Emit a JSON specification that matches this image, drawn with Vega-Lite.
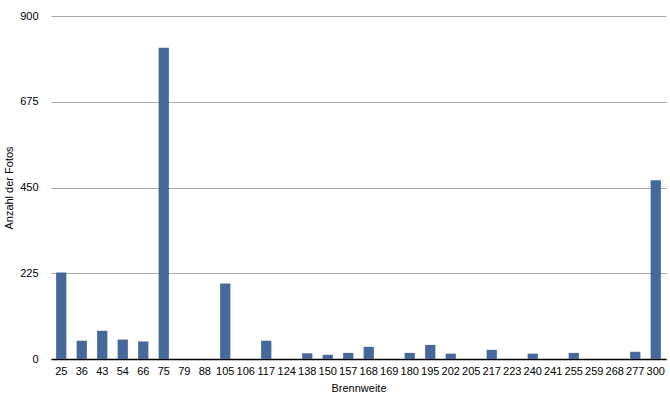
{
  "$schema": "https://vega.github.io/schema/vega-lite/v6.json",
  "autosize": "none",
  "padding": {"left": 51, "top": 16, "right": 4, "bottom": 39},
  "width": 615,
  "height": 343,
  "background": "white",
  "config": {
    "view": {"stroke": null},
    "font": "Liberation Sans",
    "axis": {"labelFont": "Liberation Sans", "titleFont": "Liberation Sans", "labelColor": "#000000", "titleColor": "#000000", "labelFontSize": 11, "titleFontSize": 11, "titleFontWeight": "normal"}
  },
  "data": {
    "values": [
      {"Brennweite": "25", "Anzahl": 227},
      {"Brennweite": "36", "Anzahl": 48},
      {"Brennweite": "43", "Anzahl": 74},
      {"Brennweite": "54", "Anzahl": 51},
      {"Brennweite": "66", "Anzahl": 46},
      {"Brennweite": "75", "Anzahl": 817},
      {"Brennweite": "79", "Anzahl": 0},
      {"Brennweite": "88", "Anzahl": 0},
      {"Brennweite": "105", "Anzahl": 198},
      {"Brennweite": "106", "Anzahl": 0},
      {"Brennweite": "117", "Anzahl": 48},
      {"Brennweite": "124", "Anzahl": 0},
      {"Brennweite": "138", "Anzahl": 15},
      {"Brennweite": "150", "Anzahl": 11},
      {"Brennweite": "157", "Anzahl": 16},
      {"Brennweite": "168", "Anzahl": 32},
      {"Brennweite": "169", "Anzahl": 0},
      {"Brennweite": "180", "Anzahl": 16},
      {"Brennweite": "195", "Anzahl": 37},
      {"Brennweite": "202", "Anzahl": 14},
      {"Brennweite": "205", "Anzahl": 0},
      {"Brennweite": "217", "Anzahl": 24},
      {"Brennweite": "223", "Anzahl": 0},
      {"Brennweite": "240", "Anzahl": 14},
      {"Brennweite": "241", "Anzahl": 0},
      {"Brennweite": "255", "Anzahl": 16},
      {"Brennweite": "259", "Anzahl": 0},
      {"Brennweite": "268", "Anzahl": 0},
      {"Brennweite": "277", "Anzahl": 19},
      {"Brennweite": "300", "Anzahl": 469}
    ]
  },
  "mark": {"type": "bar", "color": "#46699b"},
  "encoding": {
    "x": {
      "field": "Brennweite",
      "type": "ordinal",
      "sort": null,
      "title": "Brennweite",
      "scale": {"paddingInner": 0.5, "paddingOuter": 0.25},
      "axis": {"labelAngle": 0, "ticks": false, "labelPadding": 6, "domainColor": "#000000", "domainWidth": 1.5, "titleBaseline": "top", "titleY": 23, "titleX": 307.5, "titleAnchor": "middle", "titleAlign": "center"}
    },
    "y": {
      "field": "Anzahl",
      "type": "quantitative",
      "title": "Anzahl der Fotos",
      "scale": {"domain": [0, 900], "nice": false},
      "axis": {"values": [0, 225, 450, 675, 900], "domain": false, "ticks": false, "labelPadding": 13, "gridColor": "#aaaaaa", "gridWidth": 1, "titleX": -42, "titleY": 171.5, "titleAngle": -90, "titleAlign": "center", "titleBaseline": "middle"}
    }
  }
}
